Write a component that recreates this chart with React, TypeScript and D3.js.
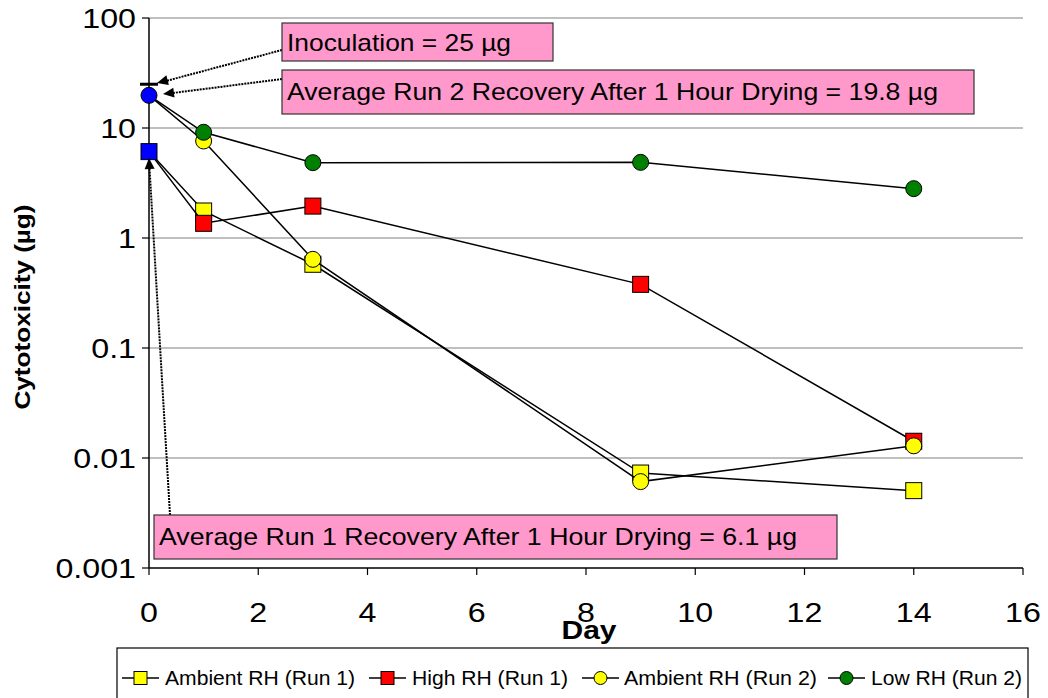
import React from "react";
import * as d3 from "d3";

const days = [0, 1, 3, 9, 14];
const ambientRun1 = [6.1, 1.76, 0.577, 0.0073, 0.00505];
const highRun1 = [6.1, 1.36, 1.95, 0.379, 0.0142];
const ambientRun2 = [19.8, 7.62, 0.64, 0.0061, 0.0129];
const lowRun2 = [19.8, 9.14, 4.84, 4.87, 2.81];
const inoculation = 25;
const run1Recovery = 6.1;
const run2Recovery = 19.8;
const xTicks = [0, 2, 4, 6, 8, 10, 12, 14, 16];
const yTicks = [0.001, 0.01, 0.1, 1, 10, 100];
const yTickLabels = ["0.001", "0.01", "0.1", "1", "10", "100"];

const seriesNames = ["Ambient RH (Run 1)", "High RH (Run 1)", "Ambient RH (Run 2)", "Low RH (Run 2)"];
const seriesValues = [ambientRun1, highRun1, ambientRun2, lowRun2];
const seriesColors = ["#FFFF00", "#FF0000", "#FFFF00", "#008000"];
const seriesShapes = ["square", "square", "circle", "circle"];

const FONT = "'Liberation Sans', Arial, sans-serif";

export default function App() {
  const x = d3.scaleLinear().domain([0, 16]).range([149, 1023]);
  const y = d3.scaleLog().domain([0.001, 100]).range([568, 18]);
  const line = d3
    .line<number>()
    .x((_, i) => x(days[i]))
    .y((v) => y(v));

  const marker = (shape: string, cx: number, cy: number, fill: string, key: string, size = 16) =>
    shape === "square" ? (
      <rect key={key} x={cx - size / 2} y={cy - size / 2} width={size} height={size} fill={fill} stroke="#000" strokeWidth={1} />
    ) : (
      <circle key={key} cx={cx} cy={cy} r={size / 2} fill={fill} stroke="#000" strokeWidth={1} />
    );

  const legendLayout = [
    { lx: 122, tx: 165, tl: 190 },
    { lx: 369, tx: 412, tl: 156 },
    { lx: 582, tx: 624, tl: 193 },
    { lx: 828, tx: 871, tl: 151 },
  ];

  const arrowHead = (tipX: number, tipY: number, fromX: number, fromY: number, key: string) => {
    const ang = Math.atan2(fromY - tipY, fromX - tipX);
    const len = 11;
    const w = 5;
    const bx = tipX + Math.cos(ang) * len;
    const by = tipY + Math.sin(ang) * len;
    const px = -Math.sin(ang) * w;
    const py = Math.cos(ang) * w;
    return <path key={key} d={`M${tipX},${tipY}L${bx + px},${by + py}L${bx - px},${by - py}Z`} fill="#000" />;
  };

  return (
    <svg width={1048} height={698} style={{ position: "absolute", left: 0, top: 0, background: "#fff" }} fontFamily={FONT}>
      <rect x={0} y={0} width={1048} height={698} fill="#fff" />
      {/* gridlines */}
      {yTicks.slice(1).map((t) => (
        <line key={"g" + t} x1={149} x2={1023} y1={y(t)} y2={y(t)} stroke="#808080" strokeWidth={1.2} />
      ))}
      {/* axes */}
      <line x1={149} x2={149} y1={18} y2={568} stroke="#000" strokeWidth={1.5} />
      <line x1={149} x2={1023} y1={568} y2={568} stroke="#000" strokeWidth={1.5} />
      {yTicks.map((t, i) => (
        <g key={"yt" + t}>
          <line x1={142} x2={149} y1={y(t)} y2={y(t)} stroke="#000" strokeWidth={1.2} />
          <g transform={`translate(136,${y(t) + 10}) scale(1.15,1)`}>
            <text x={0} y={0} textAnchor="end" fontSize={28} fill="#000">
              {yTickLabels[i]}
            </text>
          </g>
        </g>
      ))}
      {xTicks.map((t) => (
        <g key={"xt" + t}>
          <line x1={x(t)} x2={x(t)} y1={568} y2={575} stroke="#000" strokeWidth={1.2} />
          <g transform={`translate(${x(t)},622) scale(1.15,1)`}>
            <text x={0} y={0} textAnchor="middle" fontSize={28} fill="#000">
              {t}
            </text>
          </g>
        </g>
      ))}
      <text x={589} y={639} textAnchor="middle" fontSize={25} fontWeight="bold" textLength={55} lengthAdjust="spacingAndGlyphs">
        Day
      </text>
      <text
        transform="translate(30,307) rotate(-90)"
        textAnchor="middle"
        fontSize={22}
        fontWeight="bold"
        textLength={205}
        lengthAdjust="spacingAndGlyphs"
      >
        Cytotoxicity (µg)
      </text>

      {/* series */}
      {seriesValues.map((vals, si) => (
        <g key={"s" + si}>
          <path d={line(vals) || ""} fill="none" stroke="#000" strokeWidth={1.5} />
          {vals.map((v, i) => (i === 0 ? null : marker(seriesShapes[si], x(days[i]), y(v), seriesColors[si], `m${si}-${i}`)))}
        </g>
      ))}

      {/* day-0 recovery markers */}
      <line x1={x(0) - 9} x2={x(0) + 9} y1={y(inoculation)} y2={y(inoculation)} stroke="#000" strokeWidth={3} />
      {marker("circle", x(0), y(run2Recovery), "#0000FF", "b2")}
      {marker("square", x(0), y(run1Recovery), "#0000FF", "b1")}

      {/* annotations */}
      <line x1={282} y1={50} x2={166} y2={81} stroke="#000" strokeWidth={2} strokeDasharray="2,1" />
      {arrowHead(157, 83, 282, 50, "a1")}
      <line x1={282} y1={79} x2={173} y2={93} stroke="#000" strokeWidth={2} strokeDasharray="2,1" />
      {arrowHead(163, 94, 282, 79, "a2")}
      <line x1={170} y1={515} x2={149.5} y2={168} stroke="#000" strokeWidth={2} strokeDasharray="2,1" />
      {arrowHead(149, 158, 170, 515, "a3")}

      <rect x={282} y={23} width={271} height={38} fill="#FF99CC" stroke="#333" strokeWidth={1.2} />
      <text x={287} y={51} fontSize={24} textLength={224} lengthAdjust="spacingAndGlyphs">
        Inoculation = 25 µg
      </text>
      <rect x={282} y={70} width={692} height={44} fill="#FF99CC" stroke="#333" strokeWidth={1.2} />
      <text x={287} y={100} fontSize={24} textLength={651} lengthAdjust="spacingAndGlyphs">
        Average Run 2 Recovery After 1 Hour Drying = 19.8 µg
      </text>
      <rect x={154} y={515} width={683} height={44} fill="#FF99CC" stroke="#333" strokeWidth={1.2} />
      <text x={159} y={545} fontSize={24} textLength={638} lengthAdjust="spacingAndGlyphs">
        Average Run 1 Recovery After 1 Hour Drying = 6.1 µg
      </text>

      {/* legend */}
      <rect x={117} y={648} width={911} height={60} fill="#fff" stroke="#000" strokeWidth={1.2} />
      {seriesNames.map((name, i) => {
        const L = legendLayout[i];
        const cy = 678;
        return (
          <g key={"l" + i}>
            <line x1={L.lx} x2={L.lx + 37} y1={cy} y2={cy} stroke="#000" strokeWidth={1.5} />
            {marker(seriesShapes[i], L.lx + 18.5, cy, seriesColors[i], "lm" + i, 13)}
            <text x={L.tx} y={cy + 7} fontSize={20} textLength={L.tl} lengthAdjust="spacingAndGlyphs">
              {name}
            </text>
          </g>
        );
      })}
    </svg>
  );
}
